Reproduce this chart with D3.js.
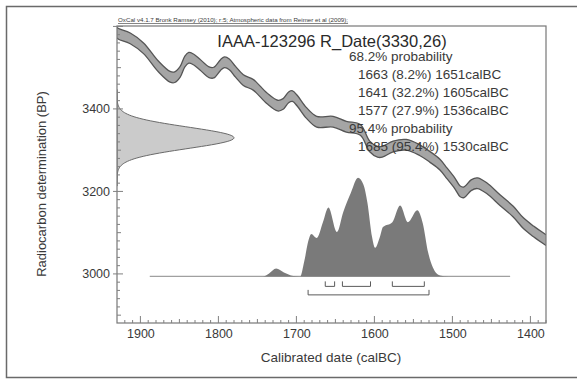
<!DOCTYPE html>
<html>
<head>
<meta charset="utf-8">
<script src="https://cdn.jsdelivr.net/npm/d3@7"></script>
<style>
  body { margin: 0; background: #ffffff; }
  text { font-family: "Liberation Sans", Arial, sans-serif; fill: #3a3a3a; }
</style>
</head>
<body>
<div id="chart"></div>
<script>
//calibration curve (calendar date calBC, radiocarbon BP)
var calDates = [1930, 1928, 1913, 1896, 1877, 1862, 1856, 1849, 1843, 1838, 1832, 1824, 1812, 1806, 1797, 1792, 1786, 1778, 1768, 1755, 1738, 1724, 1717, 1710, 1705, 1699, 1687, 1674, 1653, 1636, 1618, 1606, 1596, 1590, 1576, 1559, 1542, 1529, 1516, 1507, 1497, 1490, 1485, 1476, 1468, 1456, 1439, 1422, 1409, 1396, 1380];
var calBP = [3585, 3582, 3571, 3547, 3503, 3478, 3477, 3490, 3515, 3524, 3520, 3508, 3489, 3488, 3507, 3513, 3508, 3490, 3470, 3458, 3426, 3408, 3412, 3428, 3431, 3420, 3390, 3369, 3369, 3357, 3349, 3309, 3296, 3296, 3309, 3313, 3300, 3284, 3265, 3244, 3220, 3200, 3198, 3215, 3220, 3208, 3179, 3151, 3123, 3103, 3082];
var calSigma = 13;

//radiocarbon date
var rDate = 3330;
var rError = 26;

//posterior (calibrated) distribution, relative probability
var postDates = [1760, 1743, 1735, 1726, 1716, 1704, 1695, 1690, 1684, 1681, 1674, 1666, 1659, 1648, 1640, 1630, 1621, 1614, 1609, 1603, 1599, 1593, 1589, 1577, 1567, 1557, 1545, 1538, 1531, 1525, 1516, 1505];
var postProb = [0, 0, 0.03, 0.08, 0.04, 0.005, 0, 0.15, 0.38, 0.43, 0.39, 0.55, 0.70, 0.45, 0.65, 0.85, 1.0, 0.93, 0.75, 0.40, 0.29, 0.40, 0.50, 0.55, 0.72, 0.55, 0.67, 0.54, 0.24, 0.09, 0.01, 0];
var postExtent = [1888, 1426];

//highest probability ranges
var range68 = [[1663, 1651], [1641, 1605], [1577, 1536]];
var range95 = [[1685, 1530]];

//text lines
var titleText = "IAAA-123296 R_Date(3330,26)";
var creditText = "OxCal v4.1.7 Bronk Ramsey (2010); r:5; Atmospheric data from Reimer et al (2009);";
var probLines = [
  { text: "68.2% probability", indent: 0 },
  { text: "1663 (8.2%) 1651calBC", indent: 1 },
  { text: "1641 (32.2%) 1605calBC", indent: 1 },
  { text: "1577 (27.9%) 1536calBC", indent: 1 },
  { text: "95.4% probability", indent: 0 },
  { text: "1685 (95.4%) 1530calBC", indent: 1 }
];

//axis ticks
var xTicks = [1900, 1800, 1700, 1600, 1500, 1400];
var yTicks = [3000, 3200, 3400];

var outerWidth = 577;
var outerHeight = 379;
var margin = { top: 26, right: 31, bottom: 56, left: 117 };
var innerWidth = outerWidth - (margin.left + margin.right);
var innerHeight = outerHeight - (margin.top + margin.bottom);

var svg = d3
  .select("#chart")
  .append("svg")
  .attr("width", outerWidth)
  .attr("height", outerHeight);

//outer frame (right side is outside the picture)
svg
  .append("path")
  .attr("d", "M" + outerWidth + ",6.5H6.5V377.5H" + outerWidth)
  .attr("fill", "none")
  .attr("stroke", "#6a6a6a")
  .attr("stroke-width", 1.5);

var g = svg
  .append("g")
  .attr("transform", "translate(" + margin.left + "," + margin.top + ")");

//scales
var xScale = d3.scaleLinear().domain([1930, 1380]).range([0, innerWidth]);
var yScale = d3.scaleLinear().domain([2881, 3601]).range([innerHeight, 0]);

//calibration curve band
var calData = calDates.map(function(d, i) {
  return { date: d, bp: calBP[i] };
});

var band = d3
  .area()
  .x(function(d) { return xScale(d.date); })
  .y0(function(d) { return yScale(d.bp - calSigma); })
  .y1(function(d) { return yScale(d.bp + calSigma); })
  .curve(d3.curveCatmullRom);

g.append("clipPath")
  .attr("id", "plotclip")
  .append("rect")
  .attr("width", innerWidth)
  .attr("height", innerHeight);

var plot = g.append("g").attr("clip-path", "url(#plotclip)");

plot
  .append("path")
  .datum(calData)
  .attr("d", band)
  .attr("fill", "#a5a5a5")
  .attr("stroke", "none");

plot
  .append("path")
  .datum(calData)
  .attr("d", band.lineY1())
  .attr("fill", "none")
  .attr("stroke", "#555555")
  .attr("stroke-width", 1.3);

plot
  .append("path")
  .datum(calData)
  .attr("d", band.lineY0())
  .attr("fill", "none")
  .attr("stroke", "#555555")
  .attr("stroke-width", 1.3);

//radiocarbon gaussian on the y axis
var gaussData = d3.range(rDate - 4.5 * rError, rDate + 4.5 * rError + 1, 2).map(function(bp) {
  var z = (bp - rDate) / rError;
  return { bp: bp, p: Math.exp(-0.5 * z * z) };
});

var gScale = d3.scaleLinear().domain([0, 1]).range([0, 117]);

plot
  .append("path")
  .datum(gaussData)
  .attr("d", d3
    .area()
    .y(function(d) { return yScale(d.bp); })
    .x0(0)
    .x1(function(d) { return gScale(d.p); }))
  .attr("fill", "#cbcbcb")
  .attr("stroke", "#6a6a6a")
  .attr("stroke-width", 1);

//posterior distribution
var postBase = 2994;
var postTop = 3233;
var pScale = d3.scaleLinear().domain([0, 1]).range([yScale(postBase), yScale(postTop)]);

var postData = postDates.map(function(d, i) {
  return { date: d, p: postProb[i] };
});

plot
  .append("line")
  .attr("x1", xScale(postExtent[0]))
  .attr("x2", xScale(postExtent[1]))
  .attr("y1", pScale(0))
  .attr("y2", pScale(0))
  .attr("stroke", "#a0a0a0")
  .attr("stroke-width", 1.2);

plot
  .append("path")
  .datum(postData)
  .attr("d", d3
    .area()
    .x(function(d) { return xScale(d.date); })
    .y0(pScale(0))
    .y1(function(d) { return pScale(d.p); })
    .curve(d3.curveMonotoneX))
  .attr("fill", "#7a7a7a")
  .attr("stroke", "none");

//range brackets
var drawBrackets = function(ranges, top, bottom) {
  plot
    .selectAll(null)
    .data(ranges)
    .enter()
    .append("path")
    .attr("d", function(d) {
      return "M" + xScale(d[0]) + "," + top +
        "V" + bottom +
        "H" + xScale(d[1]) +
        "V" + top;
    })
    .attr("fill", "none")
    .attr("stroke", "#5a5a5a")
    .attr("stroke-width", 1);
};

drawBrackets(range68, pScale(0) + 5, pScale(0) + 10);
drawBrackets(range95, pScale(0) + 13.5, pScale(0) + 18.5);

//plot frame
g.append("rect")
  .attr("width", innerWidth)
  .attr("height", innerHeight)
  .attr("fill", "none")
  .attr("stroke", "#777777")
  .attr("stroke-width", 1.2);

//x axis with minor ticks inside
var xMinor = d3.range(1920, 1379, -10);

g.append("g")
  .attr("transform", "translate(0," + innerHeight + ")")
  .selectAll("line")
  .data(xMinor)
  .enter()
  .append("line")
  .attr("x1", function(d) { return xScale(d); })
  .attr("x2", function(d) { return xScale(d); })
  .attr("y1", 0)
  .attr("y2", function(d) { return d % 100 == 0 ? -7 : (d % 50 == 0 ? -4 : -3); })
  .attr("stroke", "#808080")
  .attr("stroke-width", 1);

var xAxis = d3.axisBottom(xScale).tickValues(xTicks).tickSize(0).tickPadding(6).tickFormat(d3.format("d"));

g.append("g")
  .attr("class", "x axis")
  .attr("transform", "translate(0," + innerHeight + ")")
  .call(xAxis)
  .call(function(sel) { sel.select(".domain").remove(); })
  .selectAll("text")
  .style("font-size", "12.5px")
  .style("font-family", "Liberation Sans, Arial, sans-serif")
  .attr("fill", "#444444");

//y axis with minor ticks inside
var yMinor = d3.range(2900, 3601, 20);

g.append("g")
  .selectAll("line")
  .data(yMinor)
  .enter()
  .append("line")
  .attr("x1", function(d) { return d % 200 == 0 ? -4 : 0; })
  .attr("x2", function(d) { return d % 200 == 0 ? 6 : (d % 100 == 0 ? 4 : 3); })
  .attr("y1", function(d) { return yScale(d); })
  .attr("y2", function(d) { return yScale(d); })
  .attr("stroke", "#808080")
  .attr("stroke-width", 1);

var yAxis = d3.axisLeft(yScale).tickValues(yTicks).tickSize(0).tickPadding(7).tickFormat(d3.format("d"));

g.append("g")
  .attr("class", "y axis")
  .call(yAxis)
  .call(function(sel) { sel.select(".domain").remove(); })
  .selectAll("text")
  .style("font-size", "12.5px")
  .style("font-family", "Liberation Sans, Arial, sans-serif")
  .attr("fill", "#444444");

//axis titles
svg
  .append("text")
  .attr("x", 331)
  .attr("y", 362)
  .attr("text-anchor", "middle")
  .style("font-size", "13.5px")
  .text("Calibrated date (calBC)");

svg
  .append("text")
  .attr("transform", "translate(46,184) rotate(-90)")
  .attr("text-anchor", "middle")
  .style("font-size", "13px")
  .text("Radiocarbon determination (BP)");

//credit line and title
svg
  .append("text")
  .attr("x", 118)
  .attr("y", 22)
  .style("font-size", "6.2px")
  .attr("text-decoration", "underline")
  .text(creditText);

svg
  .append("text")
  .attr("x", 332)
  .attr("y", 47)
  .attr("text-anchor", "middle")
  .style("font-size", "16.5px")
  .style("fill", "#2a2a2a")
  .text(titleText);

svg
  .append("g")
  .selectAll("text")
  .data(probLines)
  .enter()
  .append("text")
  .attr("x", function(d) { return 349 + d.indent * 9; })
  .attr("y", function(d, i) { return 61 + i * 18; })
  .style("font-size", "13.5px")
  .text(function(d) { return d.text; });
</script>
</body>
</html>
